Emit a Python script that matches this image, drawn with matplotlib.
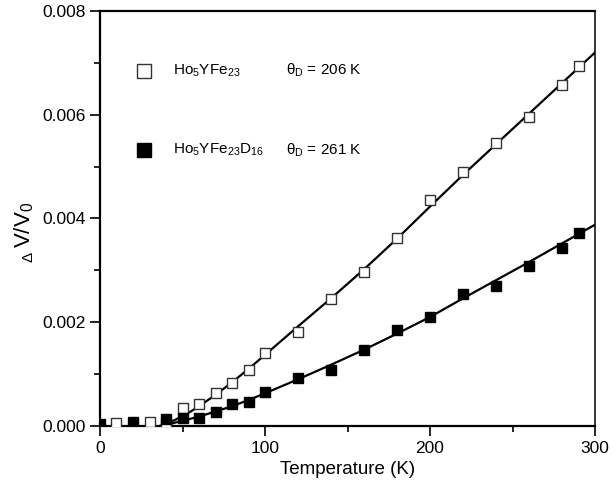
import matplotlib
matplotlib.use("Agg")
import matplotlib.pyplot as plt
from matplotlib.ticker import MultipleLocator

plt.rcParams["font.family"] = ["Liberation Sans", "DejaVu Sans"]
plt.rcParams["mathtext.fontset"] = "custom"
plt.rcParams["mathtext.rm"] = "Liberation Sans"
plt.rcParams["mathtext.it"] = "Liberation Sans:italic"
plt.rcParams["mathtext.bf"] = "Liberation Sans:bold"

# Ho5YFe23 (open squares)
t_open = [10, 30, 40, 50, 60, 70, 80, 90, 100, 120, 140, 160, 180, 200, 220, 240, 260, 280, 290]
dv_open = [0.00006, 0.00008, 0.00005, 0.00034, 0.00042, 0.00063, 0.00082, 0.00107, 0.00140,
           0.00182, 0.00244, 0.00297, 0.00362, 0.00436, 0.00490, 0.00546, 0.00595, 0.00657, 0.00693]

# Ho5YFe23D16 (filled squares)
t_fill = [0, 20, 40, 50, 60, 70, 80, 90, 100, 120, 140, 160, 180, 200, 220, 240, 260, 280, 290]
dv_fill = [0.00004, 0.00007, 0.00013, 0.00016, 0.00015, 0.00026, 0.00042, 0.00047, 0.00066,
           0.00092, 0.00107, 0.00147, 0.00185, 0.00211, 0.00254, 0.00270, 0.00309, 0.00343, 0.00372]

# Debye fit curves
t_fit_open = [36, 40, 45, 50, 55, 60, 70, 80, 90, 100, 120, 140, 160, 180, 200, 220, 240, 260, 280, 300]
dv_fit_open = [0.0, 0.00004, 0.00011, 0.00019, 0.00028, 0.00038, 0.00060, 0.00084, 0.00110, 0.00137,
               0.00192, 0.00246, 0.00302, 0.00361, 0.00423, 0.00484, 0.00543, 0.00602, 0.00661, 0.00720]
t_fit_fill = [38, 45, 50, 55, 60, 70, 80, 90, 100, 120, 140, 160, 180, 200, 220, 240, 260, 280, 300]
dv_fit_fill = [0.0, 0.00006, 0.00010, 0.00014, 0.00018, 0.00028, 0.00038, 0.00050, 0.00063, 0.00090,
               0.00118, 0.00147, 0.00178, 0.00210, 0.00246, 0.00281, 0.00316, 0.00352, 0.00388]

fig = plt.figure(figsize=(6.15, 4.86), dpi=100)
ax = fig.add_axes([0.1626, 0.1235, 0.8049, 0.8539])

ax.plot(t_fit_open, dv_fit_open, color="black", lw=1.6, zorder=2)
ax.plot(t_fit_fill, dv_fit_fill, color="black", lw=1.6, zorder=2)
ax.plot(t_open, dv_open, ls="none", marker="s", ms=7.2, mfc="white", mec="#333333", mew=1.0, zorder=3)
ax.plot(t_fill, dv_fill, ls="none", marker="s", ms=7.2, mfc="black", mec="black", mew=1.0, zorder=3)

# legend drawn as text
ax.plot([26.9], [0.00685], ls="none", marker="s", ms=10, mfc="white", mec="#333333", mew=1.0, clip_on=False)
ax.plot([26.9], [0.00532], ls="none", marker="s", ms=10, mfc="black", mec="black", mew=1.0, clip_on=False)
ax.text(44, 0.00685, r"Ho$_5$YFe$_{23}$", fontsize=11, va="center", ha="left")
ax.text(44, 0.00532, r"Ho$_5$YFe$_{23}$D$_{16}$", fontsize=11, va="center", ha="left")
ax.text(113, 0.00685, "\u03b8$_\\mathrm{D}$ = 206 K", fontsize=11, va="center", ha="left")
ax.text(113, 0.00532, "\u03b8$_\\mathrm{D}$ = 261 K", fontsize=11, va="center", ha="left")

ax.set_xlim(0, 300)
ax.set_ylim(0, 0.008)
ax.xaxis.set_major_locator(MultipleLocator(100))
ax.xaxis.set_minor_locator(MultipleLocator(50))
ax.yaxis.set_major_locator(MultipleLocator(0.002))
ax.yaxis.set_minor_locator(MultipleLocator(0.001))
ax.yaxis.set_major_formatter(plt.FormatStrFormatter("%.3f"))
ax.tick_params(which="both", direction="out", top=False, right=False, labelsize=12.5, width=1.2)
ax.tick_params(which="major", length=7)
ax.tick_params(which="minor", length=4)
for side in ["left", "bottom", "top"]:
    ax.spines[side].set_linewidth(1.6)
ax.spines["right"].set_linewidth(1.1)

ax.set_xlabel("Temperature (K)", fontsize=13.5, labelpad=4)
fig.text(0.058, 0.49, r"V/V$_0$", rotation=90, fontsize=16, ha="right", va="bottom")
fig.text(0.058, 0.472, "\u0394", rotation=90, fontsize=11, ha="right", va="center")

fig.savefig("out.png", dpi=100)
